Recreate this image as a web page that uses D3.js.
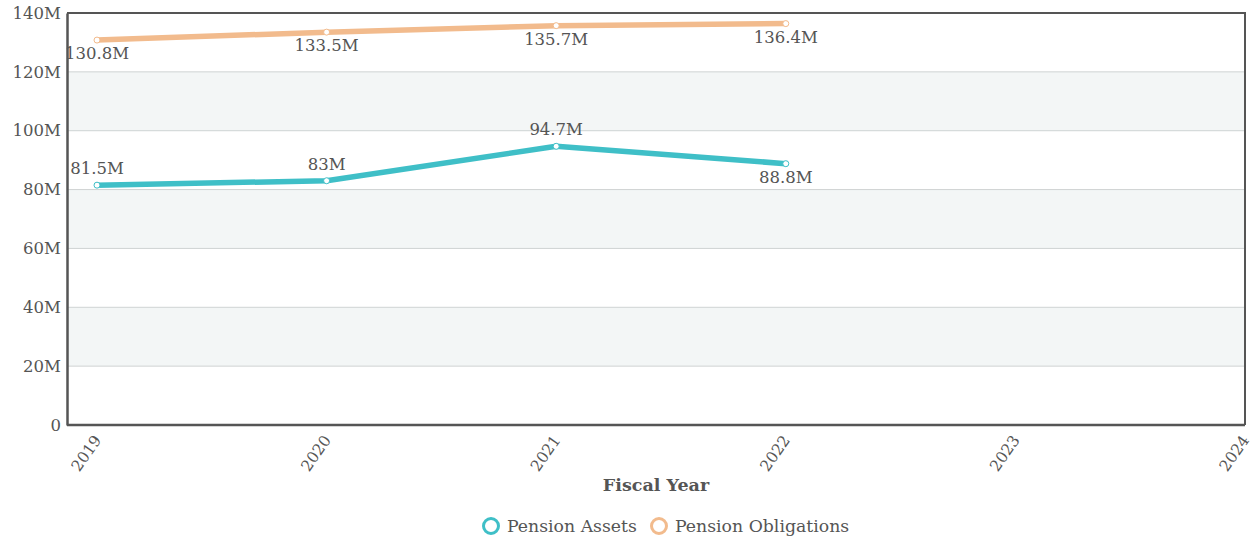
<!DOCTYPE html>
<html>
<head>
<meta charset="utf-8">
<script src="https://cdn.jsdelivr.net/npm/d3@7"></script>
<style>
  html, body { margin: 0; padding: 0; background: #fff; }
  svg { display: block; font-family: "DejaVu Serif", serif; }
</style>
</head>
<body>
<svg id="chart" width="1253" height="541"></svg>
<script>
// Fiscal years on the x axis and pension values (in millions)
const years = [2019, 2020, 2021, 2022, 2023, 2024];
const assetYears = [2019, 2020, 2021, 2022];
const pensionAssets = [81.5, 83.0, 94.7, 88.8];
const pensionObligations = [130.8, 133.5, 135.7, 136.4];
const yTicks = [0, 20, 40, 60, 80, 100, 120, 140];
const seriesNames = ["Pension Assets", "Pension Obligations"];
const seriesColors = ["#3fbfc7", "#f2bb8d"];
// label placement per point: above (-1) or below (+1) the line
const assetLabelSide = [-1, -1, -1, 1];
const obligationLabelSide = [1, 1, 1, 1];

const svg = d3.select("#chart");
const frame = { left: 67, right: 1245, top: 13, bottom: 425 };

const x = d3.scaleLinear()
  .domain([2019, 2024])
  .range([97, frame.right]);
const y = d3.scaleLinear()
  .domain([0, 140])
  .range([frame.bottom, frame.top]);

const fmt = v => (Math.round(v * 10) / 10) + "M";

// alternating horizontal bands
const bands = svg.append("g");
for (let i = 0; i < yTicks.length - 1; i++) {
  if (i % 2 === 1) {
    bands.append("rect")
      .attr("x", frame.left)
      .attr("width", frame.right - frame.left)
      .attr("y", y(yTicks[i + 1]))
      .attr("height", y(yTicks[i]) - y(yTicks[i + 1]))
      .attr("fill", "#f3f6f6");
  }
}

// horizontal grid lines
svg.append("g")
  .selectAll("line")
  .data(yTicks.filter(t => t > 0 && t < 140))
  .join("line")
  .attr("x1", frame.left).attr("x2", frame.right)
  .attr("y1", d => y(d)).attr("y2", d => y(d))
  .attr("stroke", "#cfd3d3").attr("stroke-width", 1);

// outer border (top and right)
svg.append("path")
  .attr("d", `M${frame.left},${frame.top}H${frame.right}V${frame.bottom}`)
  .attr("fill", "none").attr("stroke", "#555").attr("stroke-width", 2);

// y axis
const yAxis = svg.append("g")
  .attr("transform", `translate(${frame.left},0)`)
  .call(d3.axisLeft(y).tickValues(yTicks).tickSize(0).tickPadding(6)
    .tickFormat(d => d === 0 ? "0" : d + "M"));
yAxis.select(".domain").attr("stroke", "#555").attr("stroke-width", 2.5);
yAxis.selectAll("text")
  .attr("fill", "#555").style("font-size", "16.5px")
  .style("font-family", "DejaVu Serif, serif");

// x axis
const xAxis = svg.append("g")
  .attr("transform", `translate(0,${frame.bottom})`)
  .call(d3.axisBottom(x).tickValues(years).tickSize(0).tickFormat(d3.format("d")));
xAxis.select(".domain").remove();
xAxis.append("line")
  .attr("x1", frame.left).attr("x2", frame.right)
  .attr("stroke", "#555").attr("stroke-width", 2.5);
xAxis.selectAll(".tick text")
  .attr("fill", "#555").style("font-size", "15.5px")
  .style("font-family", "DejaVu Serif, serif")
  .attr("text-anchor", "end")
  .attr("x", 0).attr("y", 0)
  .attr("dy", "0.35em")
  .attr("transform", "translate(0,12) rotate(-55)");

// axis title
svg.append("text")
  .attr("x", (frame.left + frame.right) / 2)
  .attr("y", 491)
  .attr("text-anchor", "middle")
  .attr("fill", "#555")
  .style("font-size", "17.5px").style("font-weight", "bold")
  .text("Fiscal Year");

// series lines, markers, labels
const series = [
  { values: pensionAssets, side: assetLabelSide, color: seriesColors[0] },
  { values: pensionObligations, side: obligationLabelSide, color: seriesColors[1] }
];
const line = d3.line().x(d => x(d[0])).y(d => y(d[1]));

series.forEach(s => {
  const pts = assetYears.map((yr, i) => [yr, s.values[i], s.side[i]]);
  svg.append("path")
    .datum(pts)
    .attr("d", line)
    .attr("fill", "none")
    .attr("stroke", s.color)
    .attr("stroke-width", 5.5)
    .attr("stroke-linejoin", "round")
    .attr("stroke-linecap", "round");
  svg.append("g").selectAll("circle")
    .data(pts)
    .join("circle")
    .attr("cx", d => x(d[0])).attr("cy", d => y(d[1]))
    .attr("r", 3)
    .attr("fill", "#fff")
    .attr("stroke", s.color).attr("stroke-width", 1);
  svg.append("g").selectAll("text")
    .data(pts)
    .join("text")
    .attr("x", d => x(d[0]))
    .attr("y", d => y(d[1]) + (d[2] < 0 ? -11 : 19))
    .attr("text-anchor", "middle")
    .attr("fill", "#555")
    .style("font-size", "16.5px")
    .text(d => fmt(d[1]));
});

// legend
const legend = svg.append("g");
const legendItems = [
  { name: seriesNames[0], color: seriesColors[0], x: 491 },
  { name: seriesNames[1], color: seriesColors[1], x: 659 }
];
legendItems.forEach(item => {
  legend.append("circle")
    .attr("cx", item.x).attr("cy", 526).attr("r", 7.5)
    .attr("fill", "#fff").attr("stroke", item.color).attr("stroke-width", 3);
  legend.append("text")
    .attr("x", item.x + 16).attr("y", 532)
    .attr("fill", "#555")
    .style("font-size", "17.3px")
    .text(item.name);
});
</script>
</body>
</html>
